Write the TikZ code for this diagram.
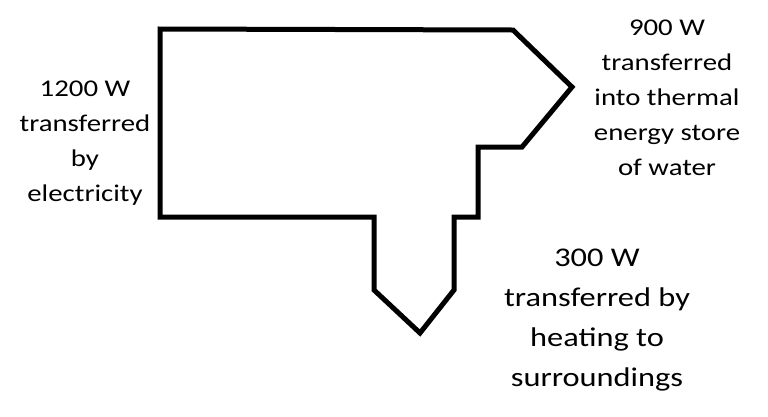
\documentclass[tikz,border=0pt]{standalone}
\usepackage{fontspec}
\setmainfont{Carlito}[FakeStretch=1.2]
\usetikzlibrary{positioning}

\begin{document}
\begin{tikzpicture}
		[x=1pt,y=-1pt,flow/.style={line width=5pt,line join=miter},label node/.style={draw=none,fill=none,align=center,inner sep=0pt,font=\fontsize{24}{35}\selectfont}]
		\useasboundingbox (0,0) rectangle (768,416);
		
		% outline of the energy flow
		\draw[flow] (160,29) -- (513,30) -- (572,87) -- (522,147) -- (478,147) -- (478,217) -- (454,217) -- (454,290) -- (420,333) -- (374,290) -- (374,217) -- (160,217) -- cycle;
		
		\node[label node] (input) at (85,143) {1200 W\\transferred\\by\\electricity};
		\node[label node] (useful) at (667,98) {900 W\\transferred\\into thermal\\energy store\\of water};
		\node[label node,font=\fontsize{27}{40}\selectfont] (wasted) at (597,320) {300 W\\transferred by\\heating to\\surroundings};
		\end{tikzpicture}
\end{document}
